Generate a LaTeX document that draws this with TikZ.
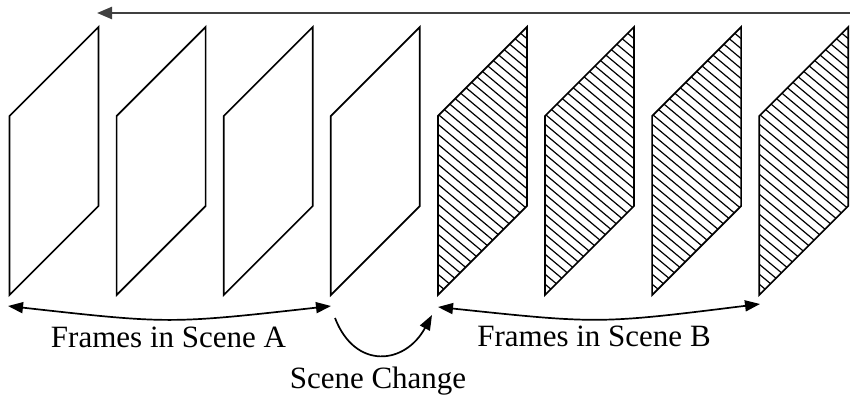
\documentclass[tikz,border=0pt]{standalone}
\usepackage{fontspec}
\setmainfont{Liberation Serif}
\usetikzlibrary{arrows.meta}
\begin{document}
\begin{tikzpicture}[x=1pt,y=-1pt,
  frameedge/.style={draw=black, line width=1.7pt, line join=miter},
  hatchline/.style={draw=black, line width=1.2pt},
  toparrow/.style={draw=black!75, line width=2.4pt, -{Triangle[length=15pt,width=12pt]}},
  spanarrow/.style={draw=black, line width=1.7pt, {Triangle[length=15pt,width=11pt]}-{Triangle[length=15pt,width=11pt]}},
  changearrow/.style={draw=black, line width=1.7pt, -{Triangle[length=15pt,width=11pt]}},
  lbl/.style={anchor=base, inner sep=0pt, font=\fontsize{31}{36}\selectfont}]
\useasboundingbox (0,0) rectangle (850,395);
% frames
\foreach \i in {0,...,7} {
  \pgfmathsetmacro\L{9.5+107.1*\i}
  \ifnum\i>3
    \begin{scope}
      \clip (\L,116) -- (\L+89,27) -- (\L+89,206) -- (\L,295) -- cycle;
      \foreach \y in {-70,-60,...,310} {
        \draw[hatchline] (\L-5,\y) -- ++(110,92);
      }
    \end{scope}
  \fi
  \draw[frameedge] (\L,116) -- (\L+89,27) -- (\L+89,206) -- (\L,295) -- cycle;
}
% top arrow
\coordinate (ts) at (850,13);
\coordinate (te) at (97,13);
\draw[toparrow] (ts) -- (te);
% scene spans
\coordinate (a1) at (8,306);
\coordinate (a2) at (331,306);
\coordinate (b1) at (438,307);
\coordinate (b2) at (760,304);
\draw[spanarrow] (a1) .. controls (169.5,324) .. (a2);
\draw[spanarrow] (b1) .. controls (599,324) .. (b2);
% scene change
\coordinate (c1) at (335,318);
\coordinate (c2) at (432,315);
\draw[changearrow] (c1) .. controls (355,370) and (405,365) .. (c2);
% labels
\node[lbl] (la) at (168.5,347) {Frames in Scene A};
\node[lbl] (lb) at (594,346) {Frames in Scene B};
\node[lbl] (lc) at (378,388) {Scene Change};
\end{tikzpicture}
\end{document}
